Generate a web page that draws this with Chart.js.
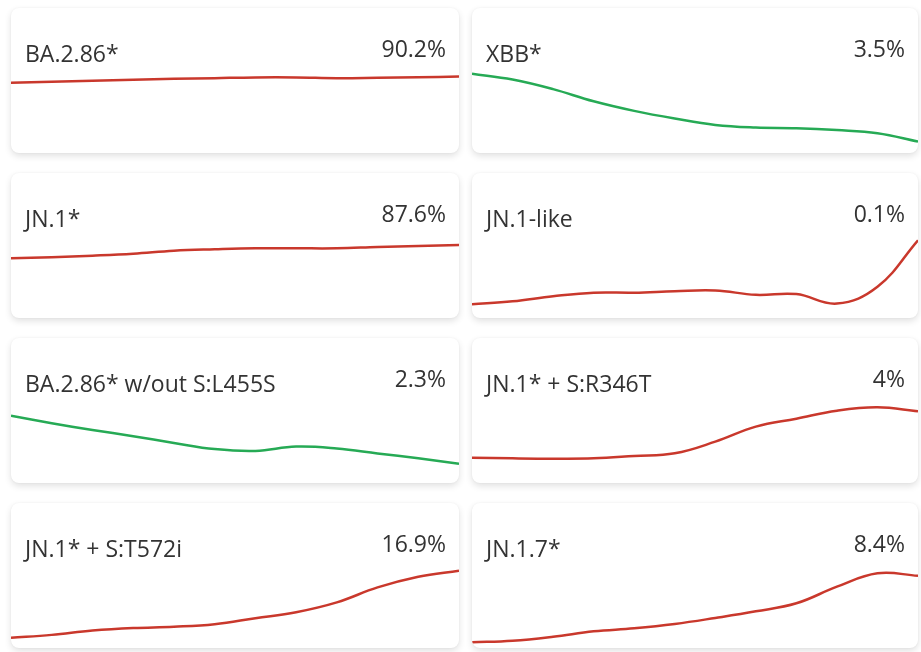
<!DOCTYPE html>
<html>
<head>
<meta charset="utf-8">
<script src="https://cdn.jsdelivr.net/npm/chart.js@4.4.1/dist/chart.umd.min.js"></script>
<style>
  html, body { margin:0; padding:0; background:#fff; }
  body { width:921px; height:652px; overflow:hidden; font-family:"Open Sans", "Noto Sans", sans-serif; }
  .grid {
    position:absolute; left:11px; top:8px;
    display:grid; grid-template-columns:448px 446px; grid-auto-rows:145px;
    column-gap:13px; row-gap:20px;
  }
  .card {
    position:relative; background:#fff; border-radius:8px; overflow:hidden;
    box-shadow:0 3px 7px rgba(0,0,0,0.12), 0 0 2px rgba(0,0,0,0.05);
  }
  .card .name, .card .pct {
    position:absolute; font-size:23px; line-height:23px; color:#333; white-space:nowrap; z-index:2;
  }
  .card .name { left:14px; top:34px; }
  .card .pct { right:13px; top:29px; }
  .card .plot { position:absolute; left:0; top:0; right:0; bottom:0; }
</style>
</head>
<body>
<div class="grid" id="grid"></div>
<script>
// ── DATA ──────────────────────────────────────────────
var weeks = ['w1','w2','w3','w4','w5','w6','w7','w8','w9','w10','w11','w12'];

var lineages = ['BA.2.86*','XBB*','JN.1*','JN.1-like','BA.2.86* w/out S:L455S','JN.1* + S:R346T','JN.1* + S:T572i','JN.1.7*'];
var shareLabels = ['90.2%','3.5%','87.6%','0.1%','2.3%','4%','16.9%','8.4%'];

var ba286      = [86.7, 87.3, 87.8, 88.4, 88.9, 89.3, 89.7, 89.7, 89.3, 89.5, 89.8, 90.2];
var xbb        = [14.1, 13.2, 11.7, 9.8, 8.3, 7.1, 6.1, 5.7, 5.6, 5.3, 4.8, 3.5];
var jn1        = [78.3, 79.0, 80.1, 81.5, 83.6, 84.6, 85.3, 85.3, 85.3, 86.2, 86.9, 87.6];
var jn1like    = [0.012, 0.016, 0.023, 0.028, 0.028, 0.030, 0.031, 0.025, 0.026, 0.013, 0.036, 0.100];
var ba286NoL   = [10.1, 8.9, 7.8, 6.8, 5.7, 4.7, 4.4, 5.1, 4.8, 4.0, 3.2, 2.3];
var jn1R346T   = [1.22, 1.18, 1.16, 1.18, 1.32, 1.48, 2.18, 3.08, 3.56, 4.04, 4.24, 4.0];
var jn1T572i   = [1.2, 1.9, 2.9, 3.5, 3.8, 4.4, 5.8, 7.2, 9.5, 13.0, 15.5, 16.9];
var jn17       = [0.09, 0.29, 0.79, 1.46, 1.84, 2.38, 3.13, 3.96, 4.96, 7.04, 8.71, 8.4];

var series = [ba286, xbb, jn1, jn1like, ba286NoL, jn1R346T, jn1T572i, jn17];

// per-card y axis ranges
var yMins = [50, 2.5, 40, 0, 0, 0, 0, 0];
var yMaxs = [95, 15, 96, 0.11, 13, 4.8, 18.7, 10];

var UP_COLOR = '#c9382c';
var DOWN_COLOR = '#26aa55';

// ── CARDS ─────────────────────────────────────────────
var grid = document.getElementById('grid');

function makeCard(i){
  var card = document.createElement('div');
  card.className = 'card';
  card.innerHTML = '<div class="name"></div><div class="pct"></div><div class="plot"><canvas id="spark' + i + '"></canvas></div>';
  card.querySelector('.name').textContent = lineages[i];
  card.querySelector('.pct').textContent = shareLabels[i];
  grid.appendChild(card);

  var data = series[i];
  var color = data[data.length - 1] >= data[0] ? UP_COLOR : DOWN_COLOR;

  new Chart(document.getElementById('spark' + i), {
    type:'line',
    data:{ labels:weeks, datasets:[{ data:data, borderColor:color, borderWidth:2.5, pointRadius:0, tension:0.4, fill:false, clip:false }] },
    options:{
      responsive:true, maintainAspectRatio:false, animation:false,
      layout:{ padding:{ top:60, bottom:5, left:0, right:0 } },
      plugins:{ legend:{ display:false }, tooltip:{ enabled:false } },
      scales:{
        x:{ display:false, offset:false },
        y:{ display:false, min:yMins[i], max:yMaxs[i] }
      }
    }
  });
}

for(var i = 0; i < lineages.length; i++) makeCard(i);
</script>
</body>
</html>
